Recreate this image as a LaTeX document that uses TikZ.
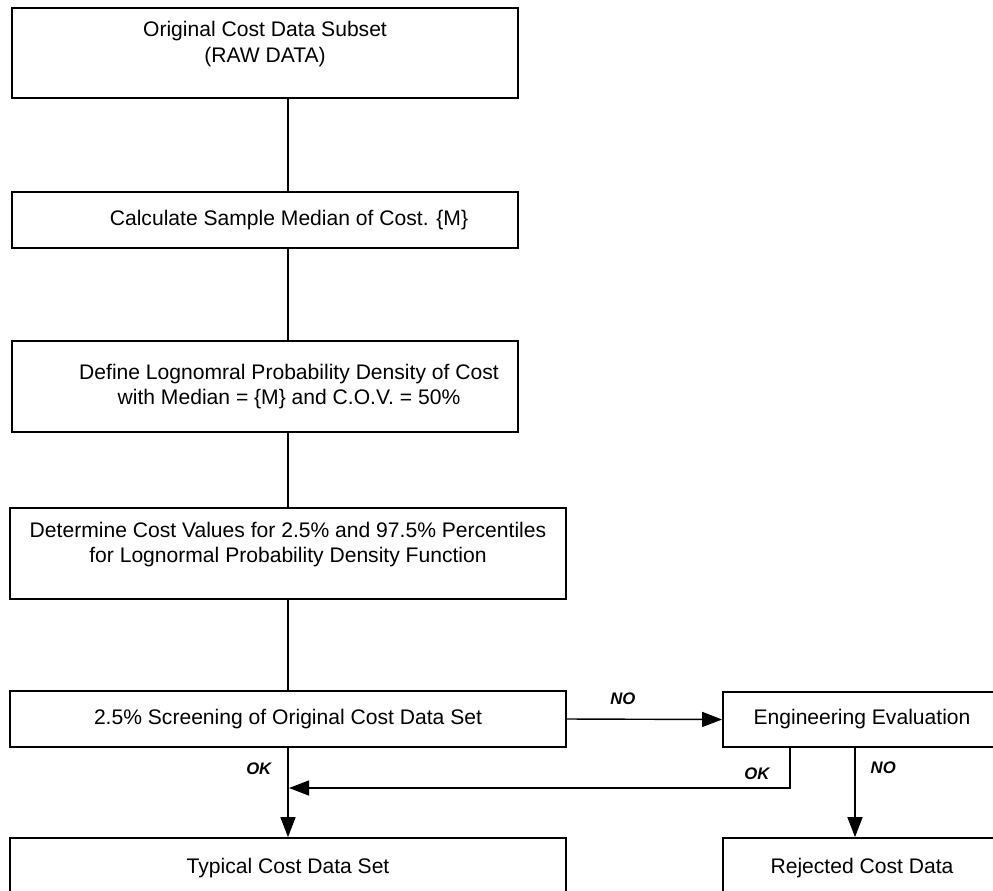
\documentclass[tikz,border=0pt]{standalone}
\usepackage{fontspec}
\setmainfont{Liberation Sans}
\usetikzlibrary{positioning, calc, arrows.meta}

\newcommand{\boxfont}{\fontsize{12}{14.5}\selectfont}

\begin{document}
\begin{tikzpicture}[
    stage/.style={rectangle, draw=black, line width=1pt, fill=white, align=center,
                  inner sep=0pt, font=\boxfont},
    offtext/.style={label={[font=\boxfont, align=center, xshift=0.48cm]center:#1}},
    flow/.style={draw=black, line width=0.8pt},
    arrow/.style={flow, -{Triangle[length=0.4cm, width=0.3cm]}},
    verdict/.style={inner sep=0pt, font=\fontsize{9.5}{11}\selectfont\bfseries\itshape},
  ]
    \useasboundingbox (0,0) rectangle (19.86,-17.80);

    \node[stage, minimum width=10.12cm, minimum height=1.80cm, text depth=0.45cm] (raw) at (5.30,-1.06)
      {Original Cost Data Subset\\(RAW DATA)};
    \node[stage, minimum width=10.12cm, minimum height=1.12cm,
          offtext={Calculate Sample Median of Cost. \{M\}}] (median) at (5.30,-4.40) {};
    \node[stage, minimum width=10.12cm, minimum height=1.82cm,
          offtext={Define Lognomral Probability Density of Cost\\with Median = \{M\} and C.O.V. = 50\%}] (lognorm) at (5.30,-7.73) {};
    \node[stage, minimum width=11.12cm, minimum height=1.82cm, text depth=0.45cm] (pct) at (5.76,-11.07)
      {Determine Cost Values for 2.5\% and 97.5\% Percentiles\\for Lognormal Probability Density Function};
    \node[stage, minimum width=11.12cm, minimum height=1.12cm] (screen) at (5.76,-14.38)
      {2.5\% Screening of Original Cost Data Set};
    \node[stage, minimum width=11.12cm, minimum height=1.20cm] (typical) at (5.76,-17.36)
      {Typical Cost Data Set};
    \node[stage, minimum width=5.56cm, minimum height=1.10cm] (eval) at (17.24,-14.39)
      {Engineering Evaluation};
    \node[stage, minimum width=5.56cm, minimum height=1.20cm] (rejected) at (17.24,-17.36)
      {Rejected Cost Data};
    \coordinate (join) at (5.78,-15.76);

    \draw[flow] (raw.south -| screen.north) -- (median.north -| screen.north);
    \draw[flow] (median.south -| screen.north) -- (lognorm.north -| screen.north);
    \draw[flow] (lognorm.south -| screen.north) -- (pct.north);
    \draw[flow] (pct.south) -- (screen.north);
    \draw[arrow] (screen.east) -- node[verdict, pos=0.36, above=0.28cm] {NO} (eval.west);
    \draw[arrow] (screen.south) -- node[verdict, pos=0.23, left=0.32cm] {OK} (typical.north);
    \draw[arrow] ([xshift=-1.44cm]eval.south) |- node[verdict, pos=0.32, left=0.4cm] {OK} (join);
    \draw[arrow] ([xshift=-0.14cm]eval.south) -- node[verdict, pos=0.22, right=0.3cm] {NO} ([xshift=-0.14cm]rejected.north);
  \end{tikzpicture}
\end{document}
